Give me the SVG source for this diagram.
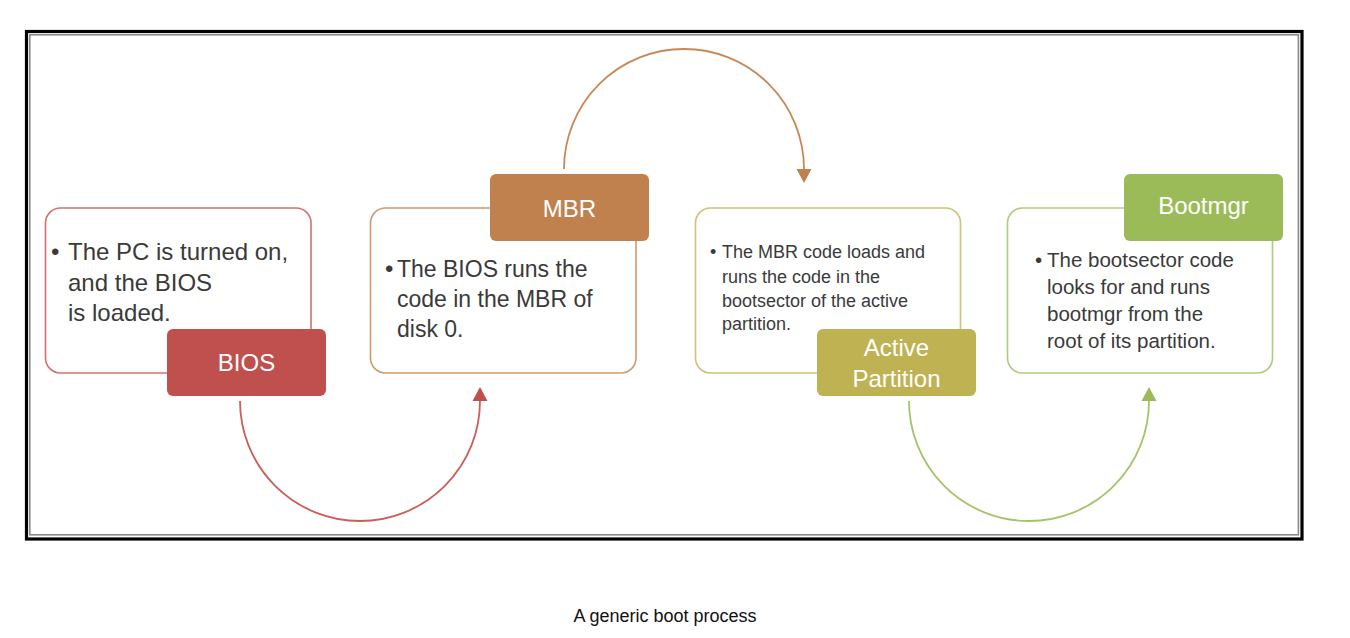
<svg xmlns="http://www.w3.org/2000/svg" width="1350" height="638" viewBox="0 0 1350 638">
<style>
.box{fill:#fff;stroke-width:1.6}
.lbl{font-family:"Liberation Sans",Arial,sans-serif;font-size:24px;fill:#fff;text-anchor:middle}
.txt{font-family:"Liberation Sans",Arial,sans-serif;fill:#3a3a3a}
.arc{fill:none;stroke-width:1.8}
.cap{font-family:"Liberation Sans",Arial,sans-serif;font-size:18px;fill:#111;text-anchor:middle}
</style>
<defs>
<marker id="ahR" markerUnits="userSpaceOnUse" markerWidth="20" markerHeight="20" refX="0" refY="8" orient="auto" viewBox="0 0 20 16"><path d="M0,0.5 L14,8 L0,15.5 z" fill="#C0504D"/></marker>
<marker id="ahO" markerUnits="userSpaceOnUse" markerWidth="20" markerHeight="20" refX="0" refY="8" orient="auto" viewBox="0 0 20 16"><path d="M0,0.5 L14,8 L0,15.5 z" fill="#C0804D"/></marker>
<marker id="ahG" markerUnits="userSpaceOnUse" markerWidth="20" markerHeight="20" refX="0" refY="8" orient="auto" viewBox="0 0 20 16"><path d="M0,0.5 L14,8 L0,15.5 z" fill="#9BBB59"/></marker>
</defs>
<rect width="1350" height="638" fill="#fff"/>
<rect x="26.5" y="31.5" width="1275.5" height="507.5" fill="none" stroke="#000" stroke-width="3.2"/>
<rect x="29.8" y="34.8" width="1268.6" height="500" fill="none" stroke="#8a8a8a" stroke-width="1.6"/>

<g id="connectors">
<path class="arc" d="M240,401 A120,120 0 0 0 480,401" stroke="#C95F5B" marker-end="url(#ahR)"/>
<path class="arc" d="M564,169 A120,120 0 0 1 804,169" stroke="#C68955" marker-end="url(#ahO)"/>
<path class="arc" d="M909,401 A120,120 0 0 0 1149,401" stroke="#A5C36B" marker-end="url(#ahG)"/>
</g>

<g id="node-bios">
<rect class="box" x="45.5" y="208" width="265.5" height="165" rx="15" stroke="#D2716F"/>
<text class="txt" font-size="24" x="51" y="260">•</text>
<text class="txt" font-size="24"><tspan x="68" y="260">The PC is turned on,</tspan><tspan x="68" y="291">and the BIOS</tspan><tspan x="68" y="321">is loaded.</tspan></text>
<rect x="167" y="329" width="159" height="67" rx="6" fill="#C0504D"/>
<text class="lbl" x="246.5" y="371">BIOS</text>
</g>

<g id="node-mbr">
<rect class="box" x="370.5" y="208" width="265.5" height="165" rx="15" stroke="#CF9A6C"/>
<text class="txt" font-size="24" x="385" y="277">•</text>
<text class="txt" font-size="23"><tspan x="397" y="277">The BIOS runs the</tspan><tspan x="397" y="307">code in the MBR of</tspan><tspan x="397" y="337">disk 0.</tspan></text>
<rect x="490" y="174" width="159" height="67" rx="6" fill="#C0814F"/>
<text class="lbl" x="569.5" y="217">MBR</text>
</g>

<g id="node-active">
<rect class="box" x="695.5" y="208" width="265" height="165" rx="15" stroke="#CCC27A"/>
<text class="txt" font-size="18" x="710" y="258">•</text>
<text class="txt" font-size="18"><tspan x="722" y="258">The MBR code loads and</tspan><tspan x="722" y="283">runs the code in the</tspan><tspan x="722" y="307">bootsector of the active</tspan><tspan x="722" y="330">partition.</tspan></text>
<rect x="817" y="329" width="159" height="67" rx="6" fill="#BFB252"/>
<text class="lbl" x="896.5" y="356" font-size="25" fill="#EFEFE6">Active</text>
<text class="lbl" x="896.5" y="387" font-size="25" fill="#EFEFE6">Partition</text>
</g>

<g id="node-bootmgr">
<rect class="box" x="1007.5" y="208" width="265" height="165" rx="15" stroke="#AECB7E"/>
<text class="txt" font-size="20.5" x="1035" y="267">•</text>
<text class="txt" font-size="20.5"><tspan x="1047" y="267">The bootsector code</tspan><tspan x="1047" y="294">looks for and runs</tspan><tspan x="1047" y="321">bootmgr from the</tspan><tspan x="1047" y="348">root of its partition.</tspan></text>
<rect x="1124" y="174" width="159" height="67" rx="6" fill="#9BBB59"/>
<text class="lbl" x="1203.5" y="214" font-size="24.5">Bootmgr</text>
</g>

<text class="cap" x="665" y="622">A generic boot process</text>
</svg>
